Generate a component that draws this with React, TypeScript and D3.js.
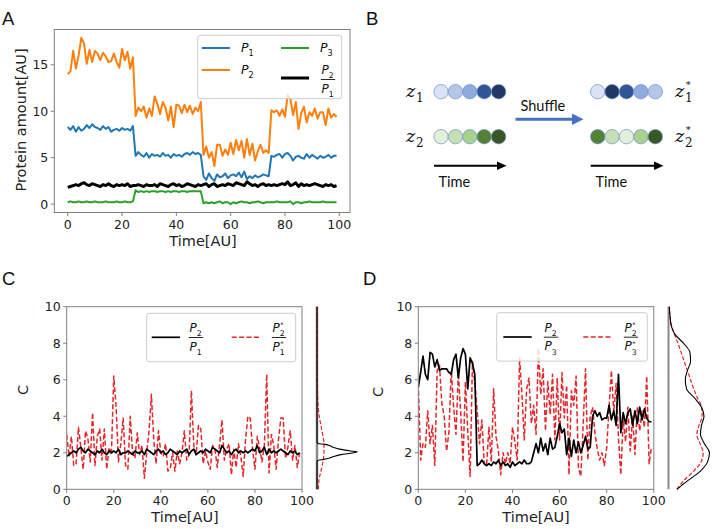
import * as d3 from "d3";

// ---- data ----
const time = d3.range(100);

const p1 = [8.3, 8.0, 8.4, 7.8, 8.3, 7.9, 8.1, 8.5, 8.2, 8.6, 8.3, 8.2, 8.0, 8.4, 8.1, 8.3, 7.8, 8.0, 8.1, 7.9, 8.2, 8.0, 8.1, 7.9, 8.4,
  5.2, 5.6, 5.3, 5.1, 5.5, 5.0, 5.4, 5.2, 5.3, 5.1, 5.5, 5.2, 5.3, 5.0, 5.4, 5.2, 5.3, 5.1, 5.4, 5.5, 5.3, 5.6, 5.4, 5.5, 5.3,
  3.0, 2.6, 3.3, 2.8, 2.5, 3.2, 2.9, 3.0, 3.3, 2.8, 3.1, 3.2, 3.0, 3.4, 2.9, 3.5, 2.7, 3.0, 2.8, 3.1, 2.9, 3.0, 3.2, 3.1, 3.0,
  5.2, 5.1, 5.3, 5.4, 5.0, 5.4, 5.5, 5.2, 4.7, 5.1, 5.2, 5.0, 4.9, 5.4, 5.0, 5.3, 5.1, 4.9, 5.2, 5.0, 5.1, 5.3, 5.0, 5.2, 5.2];

const p2 = [14.0, 14.3, 16.5, 14.6, 16.0, 17.9, 17.3, 15.1, 16.6, 15.3, 16.5, 16.2, 15.5, 16.3, 15.9, 15.3, 15.4, 16.2, 15.3, 14.7, 16.7, 15.5, 16.4, 14.6, 15.8,
  9.5, 10.4, 10.0, 10.5, 9.3, 10.3, 9.5, 11.6, 10.8, 9.7, 11.0, 10.4, 9.0, 10.5, 8.3, 10.7, 10.6, 9.8, 10.7, 9.9, 10.6, 9.7, 10.4, 10.0, 11.0,
  5.3, 6.2, 5.0, 5.6, 4.1, 6.4, 6.4, 5.2, 5.9, 5.3, 6.6, 5.4, 6.9, 5.8, 6.8, 5.0, 7.0, 5.3, 6.5, 4.7, 5.7, 6.4, 5.5, 5.8, 5.5,
  10.1, 9.9, 10.1, 9.5, 10.2, 9.4, 11.8, 11.3, 9.6, 11.0, 8.1, 9.8, 10.5, 8.8, 9.9, 9.5, 10.3, 9.2, 9.9, 9.9, 8.5, 10.3, 9.3, 9.7, 9.4];

const p3 = [0.2, 0.3, 0.2, 0.2, 0.3, 0.2, 0.2, 0.3, 0.2, 0.2, 0.3, 0.2, 0.2, 0.2, 0.3, 0.2, 0.2, 0.2, 0.3, 0.2, 0.2, 0.3, 0.2, 0.2, 0.3,
  1.5, 1.3, 1.4, 1.3, 1.4, 1.3, 1.4, 1.4, 1.3, 1.4, 1.4, 1.3, 1.4, 1.3, 1.4, 1.4, 1.3, 1.4, 1.4, 1.3, 1.4, 1.4, 1.4, 1.4, 1.4,
  0.1, 0.2, 0.1, 0.2, 0.1, 0.2, 0.3, 0.1, 0.2, 0.2, 0.0, 0.2, 0.1, 0.2, 0.3, 0.2, 0.2, 0.1, 0.2, 0.2, 0.3, 0.2, 0.1, 0.2, 0.2,
  0.2, 0.2, 0.3, 0.2, 0.2, 0.2, 0.2, 0.3, 0.0, 0.2, 0.2, 0.1, 0.2, 0.2, 0.3, 0.2, 0.2, 0.2, 0.2, 0.3, 0.2, 0.2, 0.2, 0.2, 0.2];

const ratio21 = [1.8, 1.9, 2.0, 2.1, 2.0, 2.2, 2.3, 2.1, 2.0, 2.2, 2.1, 2.0, 1.9, 2.1, 2.0, 2.2, 2.0, 1.9, 2.1, 2.0, 2.1, 2.0, 2.2, 1.9, 2.0,
  2.0, 2.1, 2.0, 1.9, 2.1, 2.0, 2.0, 2.1, 1.9, 2.2, 2.1, 2.0, 1.9, 2.1, 2.2, 2.0, 2.1, 1.9, 2.0, 2.2, 2.1, 2.0, 1.9, 2.1, 2.0,
  2.1, 2.2, 1.9, 2.1, 2.2, 1.9, 2.0, 2.1, 2.0, 2.2, 2.1, 2.0, 2.3, 2.2, 2.1, 2.0, 2.4, 2.2, 2.0, 2.1, 1.9, 2.1, 2.2, 2.0, 2.1,
  2.0, 2.1, 2.0, 2.1, 2.2, 2.1, 2.4, 2.0, 2.1, 2.3, 1.9, 2.2, 2.0, 2.1, 2.0, 2.1, 2.2, 2.1, 2.0, 1.9, 2.1, 2.0, 2.1, 1.9, 2.0];

const shuffled21 = [3.0, 1.8, 2.9, 1.3, 1.4, 3.4, 2.3, 1.1, 3.2, 2.8, 1.5, 4.2, 1.3, 2.9, 3.3, 1.6, 3.3, 1.1, 2.3, 1.9,
  6.2, 4.5, 1.5, 2.5, 3.9, 1.3, 1.1, 4.0, 2.0, 1.7, 3.1, 1.9, 2.4, 0.6, 2.0, 3.2, 5.2, 2.7, 1.4, 3.2,
  2.0, 1.8, 2.5, 1.0, 1.1, 2.0, 1.0, 2.1, 1.4, 2.0, 3.2, 1.6, 1.9, 5.4, 2.4, 1.9, 3.5, 3.3, 1.4, 2.1,
  1.5, 1.1, 2.4, 2.2, 1.2, 2.5, 3.8, 1.6, 2.2, 2.5, 0.8, 2.2, 1.2, 2.5, 1.8, 0.7, 2.7, 4.0, 3.9, 2.2,
  1.1, 2.9, 2.3, 1.5, 2.4, 6.3, 0.9, 3.0, 2.4, 1.1, 2.7, 3.9, 3.9, 1.7, 2.3, 3.2, 1.6, 2.4, 1.2, 2.0];

const ratio23 = [5.6, 6.4, 7.3, 6.3, 6.0, 7.5, 7.4, 6.7, 7.1, 6.5, 6.6, 6.6, 6.6, 6.4, 6.3, 7.1, 7.4, 6.1, 7.2, 7.7,
  7.4, 5.5, 7.2, 6.9, 6.3, 1.3, 1.4, 1.6, 1.4, 1.3, 1.4, 1.3, 1.5, 1.4, 1.6, 1.3, 1.5, 1.3, 1.4, 1.2,
  1.5, 1.3, 1.4, 1.5, 1.4, 1.6, 1.4, 1.4, 1.5, 2.0, 2.5, 2.0, 2.8, 2.1, 2.5, 1.9, 2.8, 2.2, 2.3, 2.9,
  3.6, 3.1, 3.3, 1.9, 2.8, 1.8, 2.7, 2.0, 2.6, 2.0, 2.4, 2.9, 2.2, 2.3, 4.0, 4.3, 4.0, 4.2, 3.8, 3.9,
  3.9, 4.6, 3.8, 4.3, 3.5, 6.3, 3.1, 4.2, 3.6, 4.2, 4.4, 3.5, 4.3, 3.6, 4.5, 3.8, 4.4, 3.9, 3.7, 3.7];

const shuffled23 = [5.8, 1.6, 2.5, 2.3, 4.3, 2.5, 3.5, 1.3, 6.5, 6.8, 4.7, 4.0, 2.1, 3.1, 6.5, 4.5, 3.0, 6.4, 4.2, 1.5,
  5.9, 3.2, 0.7, 7.0, 5.8, 4.3, 2.5, 3.8, 1.4, 1.3, 3.4, 1.5, 5.5, 2.9, 2.1, 0.8, 2.0, 1.4, 2.0, 1.4,
  3.4, 2.6, 1.6, 7.2, 5.2, 2.7, 5.5, 6.1, 3.6, 4.6, 3.0, 7.7, 5.2, 6.6, 3.2, 5.9, 4.1, 6.3, 2.7, 6.1,
  2.7, 6.4, 3.9, 5.7, 0.8, 5.4, 4.6, 6.2, 1.2, 0.7, 3.5, 6.6, 1.6, 4.0, 4.5, 3.1, 2.2, 1.6, 2.0, 1.3,
  2.3, 4.5, 6.5, 4.2, 5.8, 2.8, 0.8, 3.9, 2.6, 4.5, 2.1, 4.0, 1.9, 4.5, 3.2, 4.3, 3.4, 6.2, 1.4, 2.3];

// marginal densities (value of C -> density)
const kdeY = [0, 0.5, 1, 1.5, 2, 2.5, 3, 3.5, 4, 4.5, 5, 5.5, 6, 6.5, 7, 7.5, 8, 8.5, 9, 9.5, 10];
const kdeRedC = [0.1, 0.14, 0.28, 0.42, 0.5, 0.5, 0.4, 0.28, 0.16, 0.09, 0.05, 0.035, 0.025, 0.015, 0.01, 0.005, 0.005, 0.005, 0.005, 0.005, 0.005];
const spikeY = [0, 1.5, 1.58, 1.64, 1.7, 1.8, 1.9, 2.0, 2.05, 2.1, 2.2, 2.3, 2.4, 2.46, 2.52, 2.6, 10];
const spikeBlackC = [0, 0, 0.05, 0.5, 0.85, 1.2, 1.7, 2.6, 2.88, 2.4, 1.6, 1.15, 0.9, 0.6, 0.05, 0, 0];
const kdeBlackD = [0.04, 0.095, 0.152, 0.186, 0.195, 0.171, 0.152, 0.157, 0.169, 0.157, 0.124, 0.086, 0.08, 0.09, 0.105, 0.102, 0.071, 0.03, 0.012, 0.007, 0.004];
const kdeRedD = [0.04, 0.075, 0.12, 0.155, 0.165, 0.15, 0.135, 0.145, 0.16, 0.158, 0.138, 0.12, 0.105, 0.09, 0.075, 0.06, 0.045, 0.028, 0.014, 0.007, 0.004];

// panel B sequences
const z1Colors = ["#dae3f3", "#b4c7e7", "#8faadc", "#2f5597", "#203864"];
const z2Colors = ["#e2f0d9", "#c5e0b4", "#a9d18e", "#548235", "#385723"];
const z1Shuffled = ["#dae3f3", "#203864", "#2f5597", "#8faadc", "#b4c7e7"];
const z2Shuffled = ["#548235", "#c5e0b4", "#e2f0d9", "#a9d18e", "#385723"];

const xTicks = [0, 20, 40, 60, 80, 100];
const yTicksA = [0, 5, 10, 15];
const yTicksC = [0, 2, 4, 6, 8, 10];

const font = "DejaVu Sans, sans-serif";
const spine = "#808080";
const red = "#e3262b";

// italic P with subscript (and optional * superscript), one text element
function PSym({ x, y, sub, star = false, size = 12 }: any) {
  return (
    <text x={x} y={y} fontFamily={font} fill="#111" fontSize={size}>
      <tspan fontStyle="italic">P</tspan>
      <tspan fontSize={size * 0.65} dy={size * 0.35}>{sub}</tspan>
      {star && (
        <tspan fontSize={size * 0.55} x={x + size * 0.66} dy={-size * 0.75}>*</tspan>
      )}
    </text>
  );
}

function Frac({ cx, y, num, den, star = false, size = 12 }: any) {
  const w = size * 1.2;
  return (
    <g>
      <PSym x={cx - size * 0.55} y={y - size * 0.45} sub={num} star={star} size={size} />
      <line x1={cx - w / 2} x2={cx + w / 2} y1={y} y2={y} stroke="#111" strokeWidth={0.9} />
      <PSym x={cx - size * 0.55} y={y + size * 1.1} sub={den} star={star} size={size} />
    </g>
  );
}

function ZSym({ x, y, sub, star = false }: any) {
  return (
    <text x={x} y={y} fontFamily="DejaVu Serif, serif" fill="#111" fontSize={17.5}>
      <tspan fontStyle="italic">z</tspan>
      <tspan fontSize={12} dx={0.8} dy={5.5}>{sub}</tspan>
      {star && (
        <tspan fontSize={10} x={x + 10.8} dy={-14}>*</tspan>
      )}
    </text>
  );
}

function Axes({ x, y, xt, yt, labelDy }: any) {
  const [x0, x1] = x.range();
  const [y0, y1] = y.range();
  return (
    <g fontFamily={font} fontSize={12.5} fill="#222">
      <rect x={x0} y={y1} width={x1 - x0} height={y0 - y1} fill="none" stroke={spine} strokeWidth={1} />
      {xt.map((t: number) => (
        <g key={"x" + t}>
          <line x1={x(t)} x2={x(t)} y1={y0} y2={y0 + 3.5} stroke={spine} />
          <text x={x(t)} y={y0 + labelDy} textAnchor="middle">{t}</text>
        </g>
      ))}
      {yt.map((t: number) => (
        <g key={"y" + t}>
          <line x1={x0 - 3.5} x2={x0} y1={y(t)} y2={y(t)} stroke={spine} />
          <text x={x0 - 6} y={y(t) + 4.5} textAnchor="end">{t}</text>
        </g>
      ))}
    </g>
  );
}

export default function App() {
  // Panel A
  const xA = d3.scaleLinear().domain([-4.95, 103.95]).range([54.3, 350]);
  const yA = d3.scaleLinear().domain([-0.9, 18.8]).range([212.5, 29.5]);
  const lineA = (vals: number[]) =>
    d3.line<number>().x((_, i) => xA(time[i])).y((v) => yA(v))(vals) as string;

  // Panels C & D
  const yC = d3.scaleLinear().domain([0, 10]).range([489.3, 306.7]);
  const xC = d3.scaleLinear().domain([0, 100]).range([66.7, 302]);
  const xD = d3.scaleLinear().domain([0, 100]).range([418.3, 653.8]);
  const line = (xs: any, vals: number[]) =>
    d3.line<number>().x((_, i) => xs(time[i])).y((v) => yC(v))(vals) as string;

  const mC = d3.scaleLinear().domain([0, 3]).range([317, 359]);
  const mD = d3.scaleLinear().domain([0, 0.2]).range([668.5, 710.5]);
  const dens = (ms: any, ys: number[], ds: number[]) =>
    d3.line<number>().curve(d3.curveMonotoneY).x((d) => ms(d)).y((_, i) => yC(ys[i]))(ds) as string;

  const circR = 7.2;
  const circ = (cols: string[], x0: number, cy: number, key: string) =>
    cols.map((c, i) => (
      <circle key={key + i} cx={x0 + i * 14.4} cy={cy} r={circR} fill={c} stroke="#6f8fcf" strokeWidth={0.7} />
    ));

  return (
    <svg width={712} height={529} style={{ position: "absolute", left: 0, top: 0, background: "#fff" }}>
      <defs>
        <clipPath id="clipA"><rect x={54.3} y={29.5} width={295.7} height={183} /></clipPath>
        <clipPath id="clipC"><rect x={66.7} y={306.7} width={235.3} height={182.6} /></clipPath>
        <clipPath id="clipD"><rect x={418.3} y={306.7} width={235.5} height={182.6} /></clipPath>
      </defs>

      {/* panel letters */}
      <g fontFamily="Liberation Sans, Arial, sans-serif" fontSize={18.5} fill="#111">
        <text x={2} y={25}>A</text>
        <text x={366} y={25}>B</text>
        <text x={2} y={285}>C</text>
        <text x={363} y={285}>D</text>
      </g>

      {/* ---------- Panel A ---------- */}
      <g clipPath="url(#clipA)" fill="none" strokeLinejoin="round">
        <path d={lineA(p2)} stroke="#ff7f0e" strokeWidth={2} />
        <path d={lineA(p1)} stroke="#1f77b4" strokeWidth={2} />
        <path d={lineA(p3)} stroke="#2ca02c" strokeWidth={2} />
        <path d={lineA(ratio21)} stroke="#000" strokeWidth={3} />
      </g>
      <Axes x={xA} y={yA} xt={xTicks} yt={yTicksA} labelDy={16.5} />
      <text x={203} y={246} fontFamily={font} fontSize={14.5} textAnchor="middle" fill="#222">Time[AU]</text>
      <text transform="translate(26,120) rotate(-90)" fontFamily={font} fontSize={14.5} textAnchor="middle" fill="#222">Protein amount[AU]</text>

      <g>
        <rect x={197.7} y={35.3} width={144} height={63.4} rx={2.5} fill="#fff" fillOpacity={0.8} stroke="#cccccc" />
        <line x1={201.7} x2={230} y1={48} y2={48} stroke="#1f77b4" strokeWidth={2} />
        <PSym x={241} y={52} sub="1" size={12.5} />
        <line x1={201.7} x2={230} y1={70} y2={70} stroke="#ff7f0e" strokeWidth={2} />
        <PSym x={241} y={74} sub="2" size={12.5} />
        <line x1={281} x2={309} y1={48} y2={48} stroke="#2ca02c" strokeWidth={2} />
        <PSym x={320} y={52} sub="3" size={12.5} />
        <line x1={281} x2={309} y1={78} y2={78} stroke="#000" strokeWidth={3} />
        <Frac cx={328} y={79.5} num="2" den="1" size={12} />
      </g>

      {/* ---------- Panel B ---------- */}
      <g>
        {circ(z1Colors, 441, 91.7, "a")}
        {circ(z2Colors, 441, 136.7, "b")}
        {circ(z1Shuffled, 597.7, 91.7, "c")}
        {circ(z2Shuffled, 597.7, 136.7, "d")}
        <ZSym x={406} y={96.7} sub="1" />
        <ZSym x={406} y={141.7} sub="2" />
        <ZSym x={675} y={96.7} sub="1" star />
        <ZSym x={675} y={141.7} sub="2" star />
        <g fontFamily="Lato, Open Sans, sans-serif" fontSize={14.5} fill="#111">
          <text x={520.5} y={111}>Shuffle</text>
          <text x={438.5} y={187}>Time</text>
          <text x={595.5} y={187}>Time</text>
        </g>
        <line x1={515.5} x2={574} y1={119.3} y2={119.3} stroke="#4472c4" strokeWidth={3} />
        <path d="M572,113.5 L583.5,119.3 L572,125.1 Z" fill="#4472c4" />
        <line x1={434} x2={499} y1={165.7} y2={165.7} stroke="#000" strokeWidth={2} />
        <path d="M497,161.5 L506.5,165.7 L497,169.9 Z" fill="#000" />
        <line x1={590.7} x2={656} y1={165.7} y2={165.7} stroke="#000" strokeWidth={2} />
        <path d="M654,161.5 L663.5,165.7 L654,169.9 Z" fill="#000" />
      </g>

      {/* ---------- Panel C ---------- */}
      <g clipPath="url(#clipC)" fill="none" strokeLinejoin="round">
        <path d={line(xC, shuffled21)} stroke={red} strokeWidth={1.5} strokeDasharray="5,2.4" />
        <path d={line(xC, ratio21)} stroke="#000" strokeWidth={1.7} />
      </g>
      <Axes x={xC} y={yC} xt={xTicks} yt={yTicksC} labelDy={15.5} />
      <text x={185} y={522} fontFamily={font} fontSize={14.5} textAnchor="middle" fill="#222">Time[AU]</text>
      <text transform="translate(28,390) rotate(-90)" fontFamily={font} fontSize={14.5} textAnchor="middle" fill="#222">C</text>
      <g>
        <rect x={146.7} y={313.3} width={149} height={48.4} rx={2.5} fill="#fff" fillOpacity={0.8} stroke="#cccccc" />
        <line x1={151.7} x2={180} y1={337.3} y2={337.3} stroke="#000" strokeWidth={1.7} />
        <Frac cx={196} y={337.5} num="2" den="1" size={12} />
        <line x1={231.7} x2={260} y1={337.3} y2={337.3} stroke={red} strokeWidth={1.5} strokeDasharray="5,2.4" />
        <Frac cx={279} y={337.5} num="2" den="1" star size={12} />
      </g>
      {/* marginal C */}
      <line x1={317} x2={317} y1={306.7} y2={489.3} stroke="#8a8a8a" strokeWidth={2.5} />
      <path d={dens(mC, kdeY, kdeRedC)} fill="none" stroke={red} strokeWidth={1.2} strokeDasharray="4,2" />
      <path d={dens(mC, spikeY, spikeBlackC)} fill="none" stroke="#000" strokeWidth={1.1} />

      {/* ---------- Panel D ---------- */}
      <g clipPath="url(#clipD)" fill="none" strokeLinejoin="round">
        <path d={line(xD, shuffled23)} stroke={red} strokeWidth={1.5} strokeDasharray="5,2.4" />
        <path d={line(xD, ratio23)} stroke="#000" strokeWidth={1.7} />
      </g>
      <Axes x={xD} y={yC} xt={xTicks} yt={yTicksC} labelDy={15.5} />
      <text x={536} y={522} fontFamily={font} fontSize={14.5} textAnchor="middle" fill="#222">Time[AU]</text>
      <text transform="translate(383,392) rotate(-90)" fontFamily={font} fontSize={14.5} textAnchor="middle" fill="#222">C</text>
      <g>
        <rect x={496.7} y={312.7} width={150.6} height={48.4} rx={2.5} fill="#fff" fillOpacity={0.8} stroke="#cccccc" />
        <line x1={503.3} x2={531.7} y1={337} y2={337} stroke="#000" strokeWidth={1.7} />
        <Frac cx={551} y={337.2} num="2" den="3" size={12} />
        <line x1={583.3} x2={611.7} y1={337} y2={337} stroke={red} strokeWidth={1.5} strokeDasharray="5,2.4" />
        <Frac cx={631} y={337.2} num="2" den="3" star size={12} />
      </g>
      {/* marginal D */}
      <line x1={668.5} x2={668.5} y1={306.7} y2={489.3} stroke="#8a8a8a" strokeWidth={2} />
      <path d={dens(mD, kdeY, kdeRedD)} fill="none" stroke={red} strokeWidth={1.2} strokeDasharray="4,2" />
      <path d={dens(mD, kdeY, kdeBlackD)} fill="none" stroke="#000" strokeWidth={1.1} />
    </svg>
  );
}
